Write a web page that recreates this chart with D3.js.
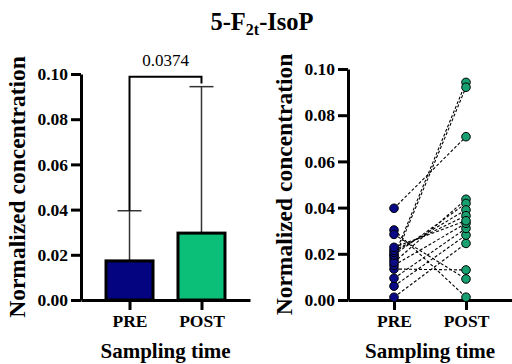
<!DOCTYPE html>
<html><head><meta charset="utf-8">
<script src="https://cdn.jsdelivr.net/npm/d3@7"></script>
<style>
body{margin:0;background:#fff;}
svg{display:block;font-family:"Liberation Serif","Times New Roman",serif;}
svg text{font-family:"Liberation Serif","Times New Roman",serif !important;}
</style></head>
<body><svg id="c" width="512" height="364"></svg>
<script>
const categories = ["PRE", "POST"];
const barMeans = [0.0173, 0.0296];
const barMax = [0.0395, 0.0944];
const yTicks = [0, 0.02, 0.04, 0.06, 0.08, 0.10];
const preValues  = [0.0397, 0.0188, 0.0175, 0.0303, 0.0284, 0.0012, 0.0060, 0.0094, 0.0134, 0.0150, 0.0163, 0.0195, 0.0206, 0.0215, 0.0228];
const postValues = [0.0707, 0.0942, 0.0921, 0.0012, 0.0091, 0.0245, 0.0281, 0.0310, 0.0130, 0.0332, 0.0436, 0.0418, 0.0390, 0.0365, 0.0343];
const pValueLabel = "0.0374";
const bracketLevel = [0.0988, 0.0958];

const colors = {PRE:"#040480", POST:"#0bbf78"};
const ptColors = {PRE:"#0a0a86", POST:"#18a070"};

const svg = d3.select("#c");
const SERIF = "Liberation Serif, Times New Roman, serif";

const t = svg.append("text").attr("x", 262).attr("y", 30).attr("text-anchor","middle")
  .attr("font-weight","bold").attr("font-size", 24.5);
t.append("tspan").text("5-F");
t.append("tspan").attr("font-size", 16).attr("dy", 5).text("2t");
t.append("tspan").attr("dy", -5).text("-IsoP");

function styleAxis(g){
  g.attr("font-family", SERIF);
  g.selectAll(".domain").attr("stroke","#000").attr("stroke-width",3);
  g.selectAll(".tick line").attr("stroke","#000").attr("stroke-width",3);
  g.selectAll(".tick text").attr("fill","#000").attr("font-weight","bold");
}

function panel(x0, x1, yTop, pad){
  const x = d3.scalePoint().domain(categories).range([x0, x1]).padding(pad);
  const y = d3.scaleLinear().domain([0, 0.1]).range([300, yTop]);
  const gy = svg.append("g").attr("transform", `translate(${x0},0)`)
    .call(d3.axisLeft(y).tickValues(yTicks).tickFormat(d3.format(".2f")).tickSize(10).tickSizeOuter(0).tickPadding(3));
  styleAxis(gy);
  gy.selectAll(".tick text").attr("font-size", 17.5);
  const gx = svg.append("g").attr("transform", `translate(0,${y(0)})`)
    .call(d3.axisBottom(x).tickSize(10).tickSizeOuter(0).tickPadding(5));
  styleAxis(gx);
  gx.selectAll(".tick text").attr("font-size", 17.5);
  svg.append("text").attr("transform", `translate(${x0-56},${(y(0)+y(0.1))/2}) rotate(-90)`)
    .attr("text-anchor","middle").attr("font-weight","bold").attr("font-size", 23.5)
    .text("Normalized concentration");
  svg.append("text").attr("x", (x0+x1)/2).attr("y", 358).attr("text-anchor","middle")
    .attr("font-weight","bold").attr("font-size", 21).text("Sampling time");
  return {x, y, gx};
}

const L = panel(81, 250, 74, 0.674);
const bw = 47;
categories.forEach((c,i)=>{
  const cx = L.x(c);
  svg.append("line").attr("x1",cx).attr("x2",cx).attr("y1",L.y(barMeans[i])).attr("y2",L.y(barMax[i]))
    .attr("stroke","#333").attr("stroke-width",1.5);
  svg.append("line").attr("x1",cx-12).attr("x2",cx+12).attr("y1",L.y(barMax[i])).attr("y2",L.y(barMax[i]))
    .attr("stroke","#333").attr("stroke-width",1.5);
});
svg.append("g").selectAll("rect").data(categories).join("rect")
  .attr("x", c=>L.x(c)-bw/2).attr("width", bw)
  .attr("y", (c,i)=>L.y(barMeans[i])).attr("height",(c,i)=>L.y(0)-L.y(barMeans[i]))
  .attr("fill", c=>colors[c]).attr("stroke","#000").attr("stroke-width",3);
L.gx.raise();
svg.append("path").attr("fill","none").attr("stroke","#000").attr("stroke-width",2)
  .attr("d", d3.line()([[L.x("PRE"), L.y(barMax[0])],[L.x("PRE"), L.y(bracketLevel[0])],
    [L.x("POST"), L.y(bracketLevel[0])],[L.x("POST"), L.y(bracketLevel[1])]]));
svg.append("text").attr("x",(L.x("PRE")+L.x("POST"))/2).attr("y",66).attr("text-anchor","middle")
  .attr("font-family", SERIF).attr("font-size",17).text(pValueLabel);

const R = panel(348, 512, 69, 0.639);
const pairs = preValues.map((v,i)=>[v, postValues[i]]);
svg.append("g").selectAll("line").data(pairs).join("line")
  .attr("x1", R.x("PRE")).attr("x2", R.x("POST"))
  .attr("y1", d=>R.y(d[0])).attr("y2", d=>R.y(d[1]))
  .attr("stroke","#000").attr("stroke-width",1.1).attr("stroke-dasharray","3,2");
R.gx.raise();
[["PRE",preValues],["POST",postValues]].forEach(([c,vals])=>{
  svg.append("g").selectAll("circle").data(vals).join("circle")
    .attr("cx", R.x(c)).attr("cy", d=>R.y(d)).attr("r",4.3)
    .attr("fill", ptColors[c]).attr("stroke","#000").attr("stroke-width",1);
});
</script></body></html>
